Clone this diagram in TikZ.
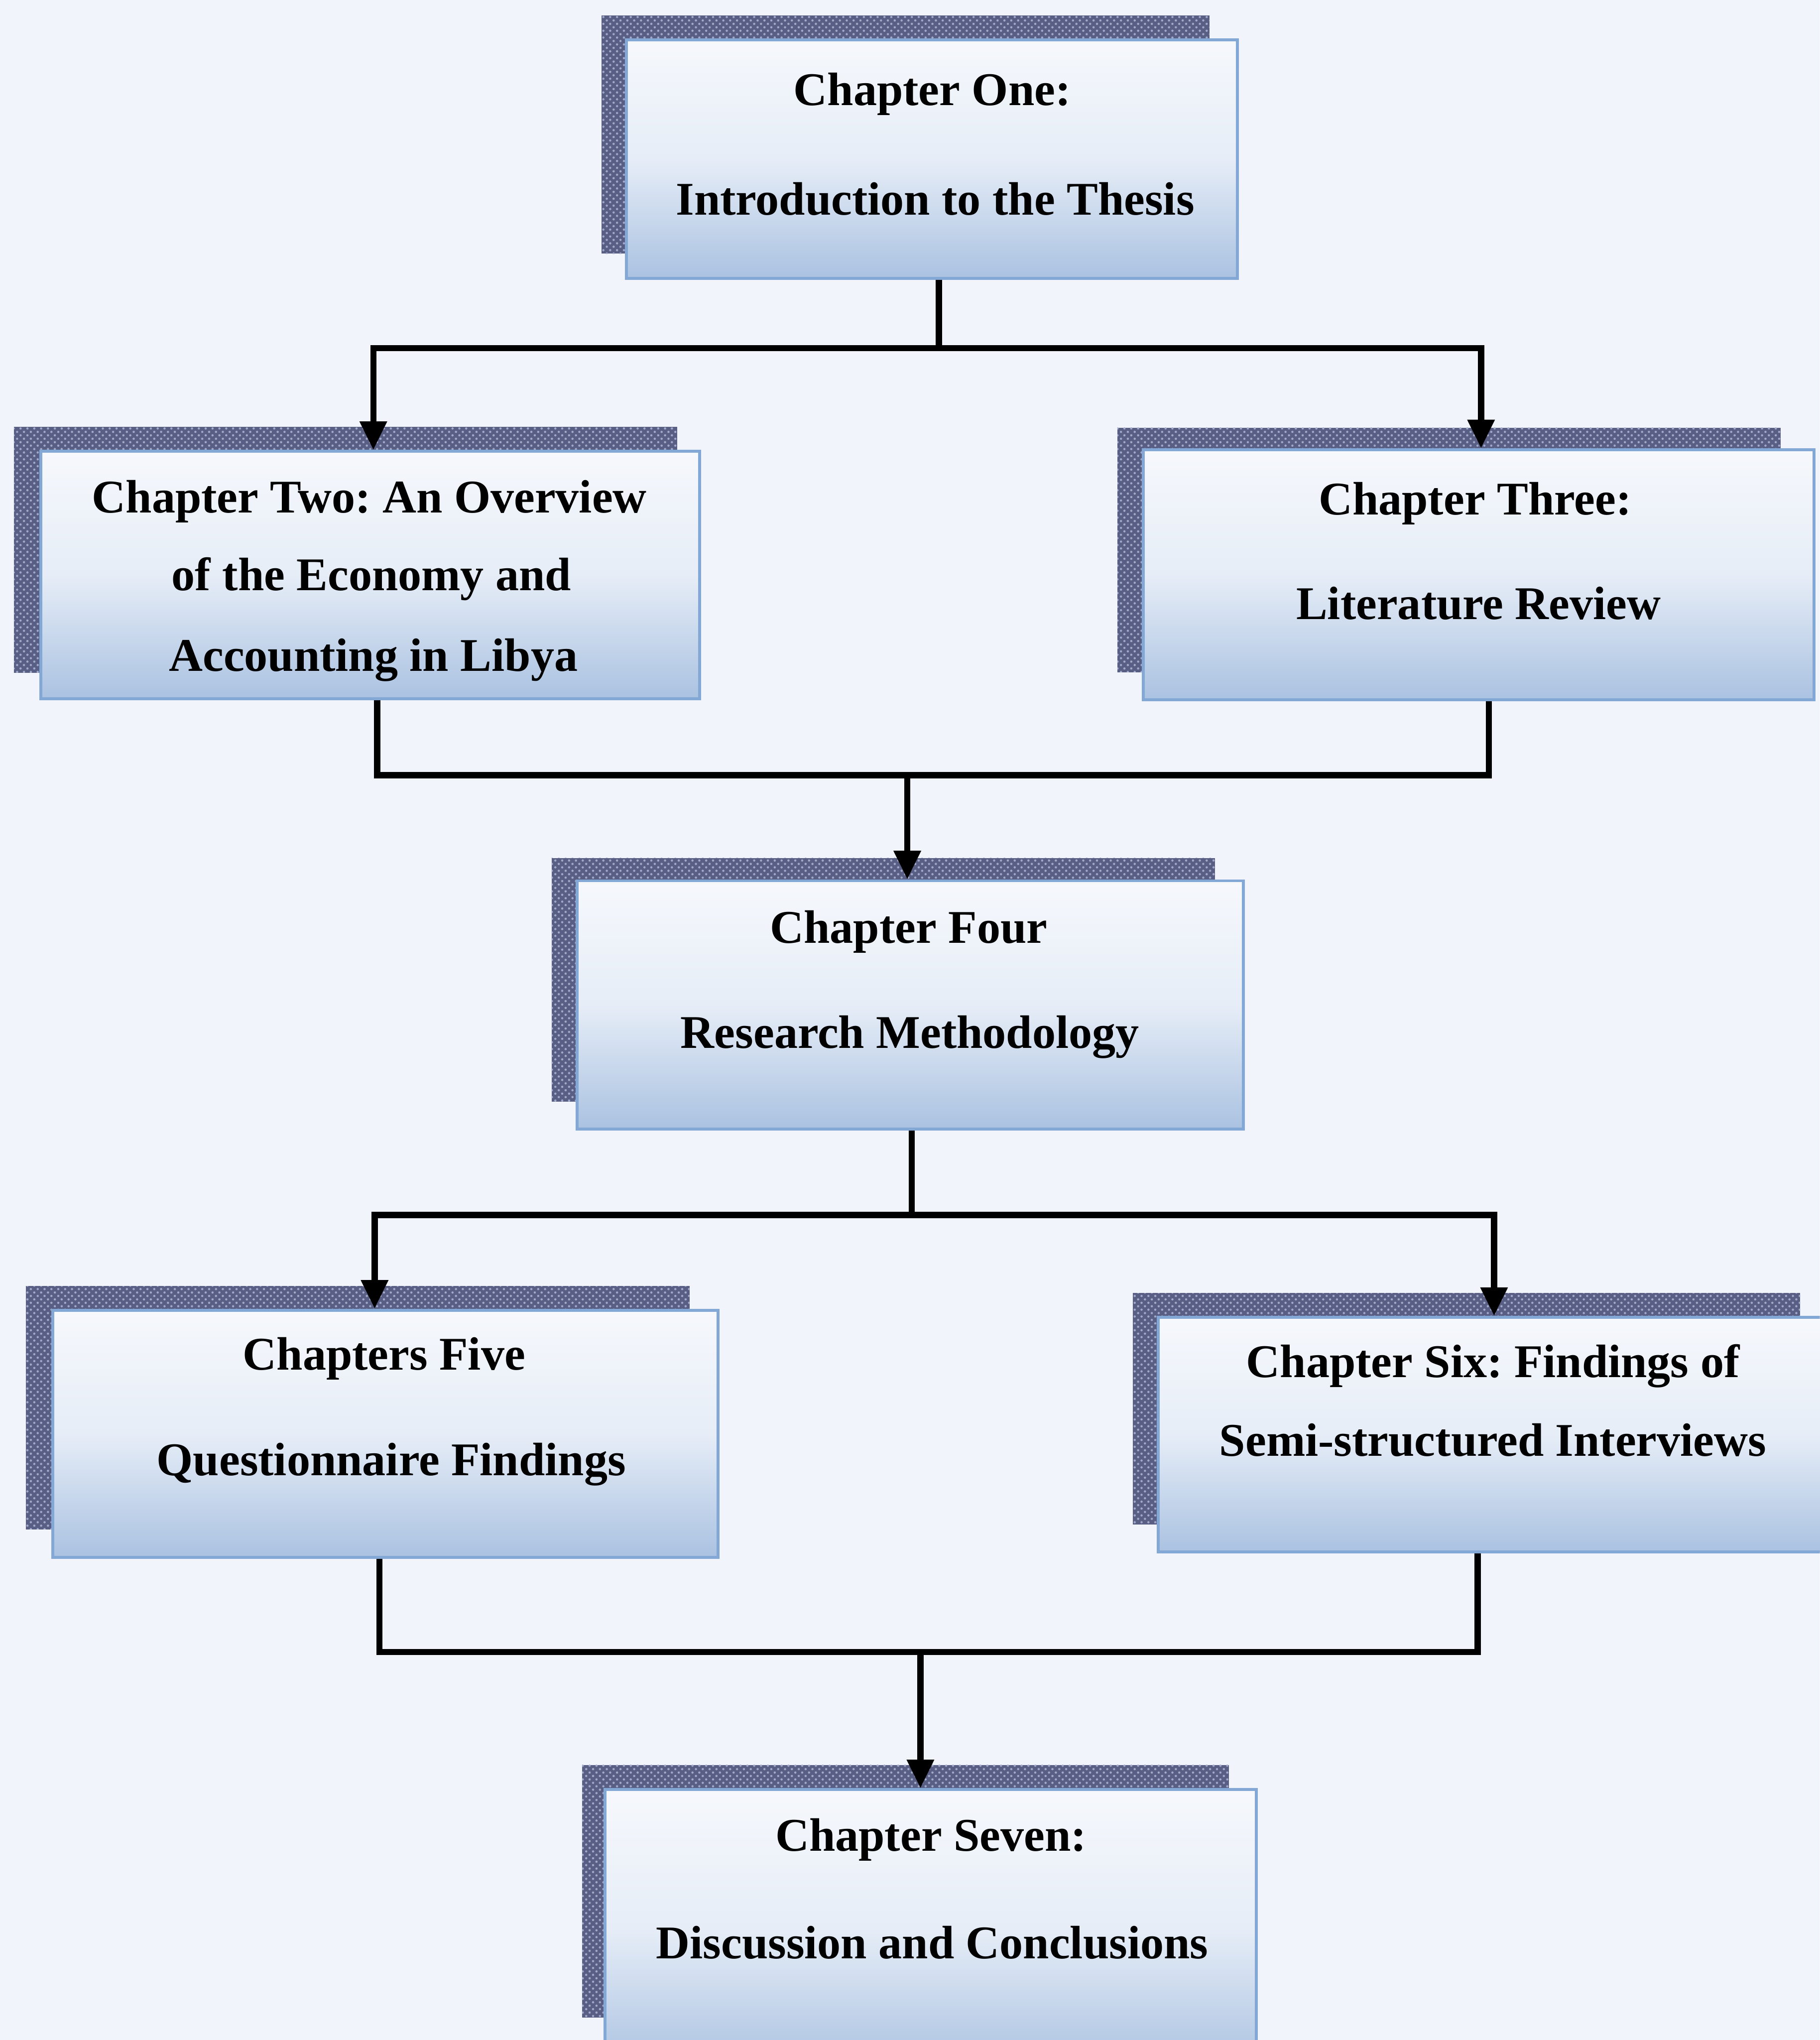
\documentclass[tikz,border=0pt]{standalone}
\usepackage{fontspec}
\setmainfont{Liberation Serif}
\usetikzlibrary{arrows.meta,fit,patterns}
\definecolor{bgc}{RGB}{241,244,250}
\definecolor{shadowbase}{RGB}{88,94,132}
\definecolor{shadowdots}{RGB}{160,168,200}
\definecolor{frontborder}{RGB}{132,168,214}
\definecolor{ftop}{RGB}{246,248,252}
\definecolor{fmid}{RGB}{230,237,247}
\definecolor{fbot}{RGB}{170,194,225}
\frenchspacing
\begin{document}
\begin{tikzpicture}[x=0.02cm,y=-0.02cm,
  shadowbox/.style={inner sep=0pt, outer sep=0pt, draw=none, fill=shadowbase,
    postaction={pattern=crosshatch dots, pattern color=shadowdots}},
  frontbox/.style={inner sep=0pt, draw=frontborder, line width=1.3pt,
    top color=ftop, bottom color=fbot, middle color=fmid},
  lbl/.style={anchor=base, font=\fontsize{20.5}{24}\selectfont\bfseries, inner sep=0pt},
  conn/.style={line width=2.7pt, draw=black},
  arr/.style={conn, -{Triangle[length=0.44cm,width=0.40cm]}}
]
\useasboundingbox (0,0) rectangle (1399,1568);
\clip (0,0) rectangle (1399,1568);
\fill[bgc] (0,0) rectangle (1399,1568);

% boxes
\node[shadowbox, fit={(462.5,12) (930,195)}] (s1) {};
\node[frontbox, fit={(481.7,30.8) (951.4,214)}] (b1) {};
\node[shadowbox, fit={(10.7,328) (520.5,517)}] (s2) {};
\node[frontbox, fit={(31.5,347) (538,537)}] (b2) {};
\node[shadowbox, fit={(859,328.8) (1369,516.6)}] (s3) {};
\node[frontbox, fit={(879,345.7) (1394.6,537.9)}] (b3) {};
\node[shadowbox, fit={(424,659.5) (934,846.7)}] (s4) {};
\node[frontbox, fit={(443.8,677) (956,868)}] (b4) {};
\node[shadowbox, fit={(20,988.5) (530,1175.5)}] (s5) {};
\node[frontbox, fit={(40.4,1007) (552,1197)}] (b5) {};
\node[shadowbox, fit={(871,993.9) (1384,1171.6)}] (s6) {};
\node[frontbox, fit={(890.5,1012.6) (1412,1193)}] (b6) {};
\node[shadowbox, fit={(447.5,1356.5) (944.6,1550.9)}] (s7) {};
\node[frontbox, fit={(465,1375.6) (966,1590)}] (b7) {};

% texts
\node[lbl] (t1a) at (716.7,80.8) {Chapter One:};
\node[lbl] (t1b) at (719,165) {Introduction to the Thesis};
\node[lbl] (t2a) at (284,394) {Chapter Two: An Overview};
\node[lbl] (t2b) at (285.6,454) {of the Economy and};
\node[lbl] (t2c) at (287,516) {Accounting in Libya};
\node[lbl] (t3a) at (1134,395.6) {Chapter Three:};
\node[lbl] (t3b) at (1136.7,476) {Literature Review};
\node[lbl] (t4a) at (698.6,724.8) {Chapter Four};
\node[lbl] (t4b) at (699.5,805.6) {Research Methodology};
\node[lbl] (t5a) at (295.3,1053) {Chapters Five};
\node[lbl] (t5b) at (300.8,1134) {Questionnaire Findings};
\node[lbl] (t6a) at (1147.7,1058.5) {Chapter Six: Findings of};
\node[lbl] (t6b) at (1147.7,1119) {Semi-structured Interviews};
\node[lbl] (t7a) at (715.7,1422.7) {Chapter Seven:};
\node[lbl] (t7b) at (716.6,1505.3) {Discussion and Conclusions};

% connectors
\coordinate (j1) at (721.8,267.5);
\coordinate (j1l) at (287,267.5);
\coordinate (j1r) at (1138.6,267.5);
\draw[conn] (b1.south -| j1) -- (j1);
\draw[arr] (j1) -- (j1l) -- (j1l |- b2.north);
\draw[arr] (j1) -- (j1r) -- (j1r |- b3.north);

\coordinate (j2) at (697.5,595.8);
\coordinate (j2l) at (290,595.8);
\coordinate (j2r) at (1144.5,595.8);
\draw[conn] (b2.south -| j2l) -- (j2l) -- (j2r) -- (b3.south -| j2r);
\draw[arr] (j2) -- (j2 |- b4.north);

\coordinate (j3) at (701,933.8);
\coordinate (j3l) at (288,933.8);
\coordinate (j3r) at (1148.6,933.8);
\draw[conn] (b4.south -| j3) -- (j3);
\draw[arr] (j3) -- (j3l) -- (j3l |- b5.north);
\draw[arr] (j3) -- (j3r) -- (j3r |- b6.north);

\coordinate (j4) at (707.6,1269.8);
\coordinate (j4l) at (291.6,1269.8);
\coordinate (j4r) at (1136,1269.8);
\draw[conn] (b5.south -| j4l) -- (j4l) -- (j4r) -- (b6.south -| j4r);
\draw[arr] (j4) -- (j4 |- b7.north);
\end{tikzpicture}
\end{document}
